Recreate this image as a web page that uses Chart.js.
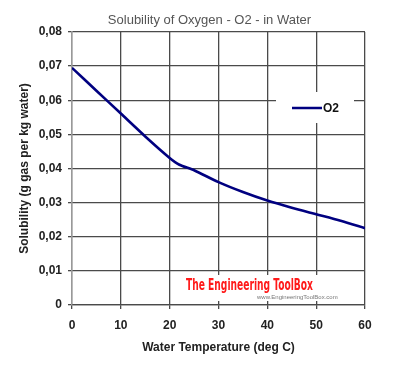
<!DOCTYPE html>
<html>
<head>
<meta charset="utf-8">
<script src="https://cdn.jsdelivr.net/npm/chart.js@4.4.1/dist/chart.umd.min.js"></script>
<style>
  html, body { margin: 0; padding: 0; background: #fff; }
  #wrap { width: 419px; height: 371px; position: relative; }
</style>
</head>
<body>
<div id="wrap"><canvas id="myChart" width="419" height="371"></canvas></div>
<script>
// data
const temps = [0, 5, 10, 15, 20, 22, 25, 30, 35, 40, 45, 50, 55, 60]
const o2 = [0.0695, 0.0628, 0.0561, 0.0494, 0.0431, 0.0411, 0.0395, 0.0360, 0.0331, 0.0306, 0.0285, 0.0266, 0.0247, 0.0225]
const xTicks = [0, 10, 20, 30, 40, 50, 60]
const yTicks = ['0', '0,01', '0,02', '0,03', '0,04', '0,05', '0,06', '0,07', '0,08']

const titleText = 'Solubility of Oxygen - O2 - in Water'
const xTitle = 'Water Temperature (deg C)'
const yTitle = 'Solubility (g gas per kg water)'
const seriesName = 'O2'

const font = "Arial, 'Liberation Sans', sans-serif"
const gridColor = '#4a4a4a'
const lineColor = '#000080'

// title, legend box + watermark, placed relative to the chart area
const extras = {
  id: 'extras',
  afterDatasetsDraw(chart) {
    const { ctx, chartArea: a } = chart
    ctx.save()
    // title, centred on the whole picture
    ctx.font = '13px ' + font
    ctx.fillStyle = '#555'
    ctx.textAlign = 'center'
    ctx.textBaseline = 'middle'
    ctx.fillText(titleText, chart.width / 2, a.top - 12)

    // watermark
    ctx.textAlign = 'left'
    ctx.fillStyle = '#fff'
    ctx.fillRect(a.left + 109, a.bottom - 30, 166, 26)
    ctx.font = "bold 16px 'Liberation Sans Narrow', 'DejaVu Sans Condensed', sans-serif"
    const w = ctx.measureText('The Engineering ToolBox').width
    ctx.translate(a.left + 114, a.bottom - 19)
    ctx.scale(127 / w, 1)
    ctx.fillStyle = '#ff1a1a'
    ctx.fillText('The Engineering ToolBox', 0, 0)
    ctx.setTransform(1, 0, 0, 1, 0, 0)
    ctx.font = "6px " + font
    ctx.fillStyle = '#777'
    ctx.fillText('www.EngineeringToolBox.com', a.left + 185, a.bottom - 8)

    // legend
    ctx.fillStyle = '#fff'
    ctx.fillRect(a.left + 204, a.top + 60, 78, 31)
    ctx.strokeStyle = lineColor
    ctx.lineWidth = 2.5
    ctx.beginPath()
    ctx.moveTo(a.left + 220, a.top + 76)
    ctx.lineTo(a.left + 250, a.top + 76)
    ctx.stroke()
    ctx.fillStyle = '#111'
    ctx.font = 'bold 12px ' + font
    ctx.fillText(seriesName, a.left + 251, a.top + 77)
    ctx.restore()
  }
}

const ctx = document.getElementById('myChart')
new Chart(ctx, {
  type: 'line',
  data: {
    datasets: [{
      label: seriesName,
      data: temps.map((t, i) => ({ x: t, y: o2[i] })),
      borderColor: lineColor,
      borderWidth: 2.6,
      pointRadius: 0,
      tension: 0.25,
      fill: false
    }]
  },
  options: {
    responsive: false,
    animation: false,
    devicePixelRatio: 1,
    layout: { padding: { left: 0, right: 54, top: 32, bottom: 0 } },
    plugins: {
      legend: { display: false },
      tooltip: { enabled: false },
      title: { display: false }
    },
    scales: {
      x: {
        type: 'linear',
        min: 0,
        max: 60,
        afterBuildTicks: s => { s.ticks = xTicks.map(v => ({ value: v })) },
        afterFit: s => { s.height = 66 },
        ticks: {
          color: '#222',
          font: { family: font, size: 12, weight: 'bold' },
          padding: 9,
          maxRotation: 0,
          callback: v => String(v)
        },
        grid: { color: gridColor, lineWidth: 1.3, tickLength: 4 },
        border: { color: gridColor, width: 1.3 },
        title: {
          display: true,
          text: xTitle,
          color: '#222',
          font: { family: font, size: 12, weight: 'bold' },
          padding: { top: 0, bottom: 16 }
        }
      },
      y: {
        min: 0,
        max: 0.08,
        afterBuildTicks: s => { s.ticks = yTicks.map((t, i) => ({ value: i * 0.01 })) },
        afterFit: s => { s.width = 72 },
        ticks: {
          color: '#222',
          font: { family: font, size: 12, weight: 'bold' },
          padding: 6,
          callback: (v, i) => yTicks[i]
        },
        grid: { color: gridColor, lineWidth: 1.3, tickLength: 4 },
        border: { color: '#999', width: 1.3 },
        title: {
          display: true,
          text: yTitle,
          color: '#222',
          font: { family: font, size: 12, weight: 'bold' },
          padding: { top: 17, bottom: 0 }
        }
      }
    }
  },
  plugins: [extras]
})
</script>
</body>
</html>
